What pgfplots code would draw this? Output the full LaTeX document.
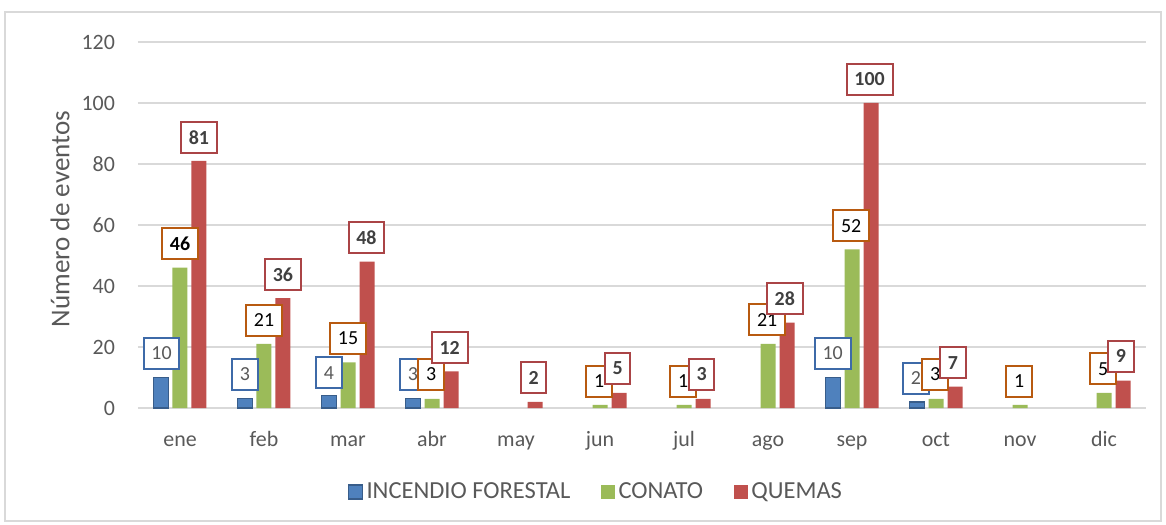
\documentclass[border=0pt]{standalone}
\usepackage{pgfplots}
\pgfplotsset{compat=1.18}
\usepackage{fontspec}
\setmainfont{Carlito}
\definecolor{cblue}{HTML}{4F81BD}
\definecolor{cbluedk}{HTML}{385D8A}
\definecolor{cgreen}{HTML}{9BBB59}
\definecolor{cred}{HTML}{C0504D}
\definecolor{lblue}{HTML}{3E6AA8}
\definecolor{lorange}{HTML}{B85A10}
\definecolor{lred}{HTML}{AA4446}
\definecolor{txt}{HTML}{595959}
\definecolor{gridc}{HTML}{D9D9D9}
\tikzset{lbl/.style={font=\fontsize{10}{12}\selectfont, fill=white, line width=1bp, inner xsep=3.9bp, inner ysep=0pt, minimum height=15.5bp, anchor=center}}
\begin{document}
\begin{tikzpicture}
\path[use as bounding box] (-69bp,-58.5bp) rectangle (514bp,204bp);
\draw[gridc, line width=0.6bp] (-66.5bp,-56.5bp) rectangle (511.5bp,198bp);
\begin{axis}[
  at={(0,0)}, anchor=south west,
  scale only axis, width=504bp, height=183bp,
  xmin=-0.5, xmax=11.5, ymin=0, ymax=120,
  enlargelimits=false, clip=false,
  axis line style={draw=none},
  major tick length=0pt,
  ymajorgrids, grid style={gridc, line width=0.75bp},
  ytick={0,20,...,120},
  xtick={0,...,11},
  xticklabels={ene,feb,mar,abr,may,jun,jul,ago,sep,oct,nov,dic},
  /pgf/number format/assume math mode=true,
  tick label style={font=\fontsize{11}{13}\selectfont, text=txt},
  yticklabel style={xshift=-8bp},
  xticklabel style={anchor=base, yshift=-19bp},
  ylabel={Número de eventos},
  every axis y label/.style={at={(rel axis cs:0,0.5)}, xshift=-39bp, yshift=3bp, rotate=90, anchor=center, font=\fontsize{13.6}{15}\selectfont, text=txt},
  legend columns=3,
  legend image code/.code={\path[#1] (0bp,-3.5bp) rectangle (7bp,3.5bp);},
  legend style={draw=none, fill=none, at={(0.455,-0.2295)}, anchor=center,
    font=\fontsize{12.3}{14}\selectfont, text=txt,
    /tikz/every even column/.append style={column sep=13.5bp},
    nodes={inner xsep=1.8bp}},
]
\addplot[ybar, bar width=7.5bp, bar shift=-9.5bp, fill=cblue, draw=cbluedk, line width=0.6bp]
  coordinates {(0,10) (1,3) (2,4) (3,3) (8,10) (9,2)};
\addlegendentry{INCENDIO FORESTAL}
\addplot[ybar, bar width=7.5bp, bar shift=0bp, fill=cgreen, draw=none]
  coordinates {(0,46) (1,21) (2,15) (3,3) (5,1) (6,1) (7,21) (8,52) (9,3) (10,1) (11,5)};
\addlegendentry{CONATO}
\addplot[ybar, bar width=7.5bp, bar shift=9.5bp, fill=cred, draw=none]
  coordinates {(0,81) (1,36) (2,48) (3,12) (4,2) (5,5) (6,3) (7,28) (8,100) (9,7) (11,9)};
\addlegendentry{QUEMAS}
% data labels
\addplot[draw=none, mark=none, forget plot, point meta=explicit symbolic,
  nodes near coords, nodes near coords style={lbl, draw=lblue, text=txt}]
  coordinates {(-0.22,17.9)[10] (0.774,11.1)[3] (1.774,11.6)[4] (2.774,11.0)[3] (7.77,17.9)[10] (8.76,9.7)[2]};
\addplot[draw=none, mark=none, forget plot, point meta=explicit symbolic,
  nodes near coords, nodes near coords style={lbl, draw=lorange, text=black}]
  coordinates {(0,53.9)[\textbf{46}] (1.0,28.7)[21] (2.0,22.8)[15] (2.99,11)[3] (4.99,8.7)[1] (5.99,8.7)[1] (6.99,28.9)[21] (7.99,59.8)[52] (8.99,11)[3] (9.99,8.7)[1] (10.99,12.8)[5]};
\addplot[draw=none, mark=none, forget plot, point meta=explicit symbolic,
  nodes near coords, nodes near coords style={lbl, draw=lred, text=black!75, font=\fontsize{10}{12}\selectfont\bfseries}]
  coordinates {(0.226,88.7)[81] (1.226,43.8)[36] (2.22,55.9)[48] (3.21,19.8)[12] (4.21,10)[2] (5.21,13)[5] (6.21,11)[3] (7.2,35.9)[28] (8.21,107.7)[100] (9.2,14.9)[7] (11.2,16.9)[9]};
\end{axis}
\end{tikzpicture}
\end{document}
